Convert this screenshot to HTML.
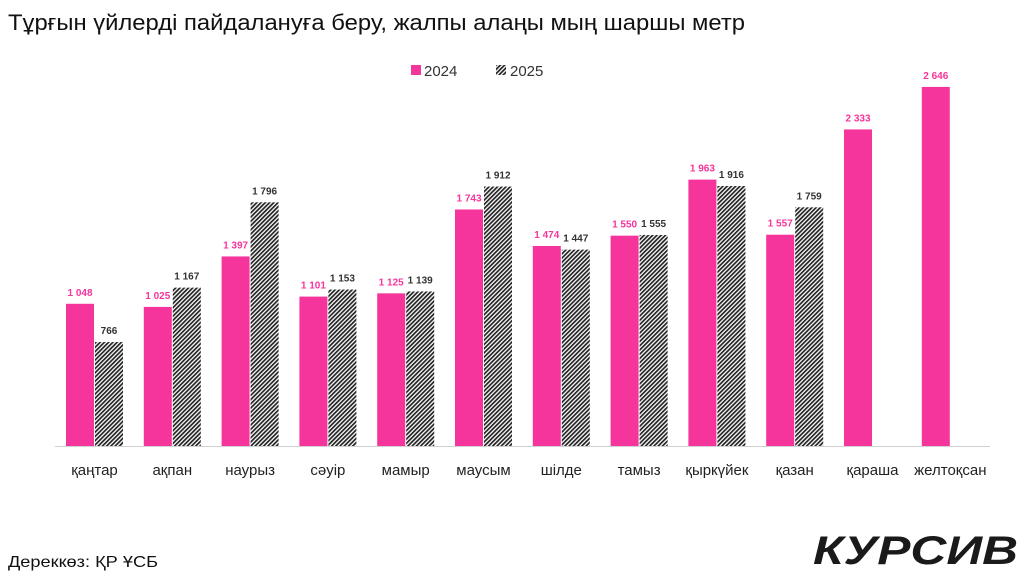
<!DOCTYPE html>
<html><head><meta charset="utf-8"><style>body{margin:0;background:#fff}svg{display:block;font-family:"Liberation Sans",sans-serif}</style></head><body>
<svg width="1024" height="576" viewBox="0 0 1024 576">
<defs><pattern id="h" width="3" height="3" patternUnits="userSpaceOnUse" patternTransform="rotate(45)"><rect width="3" height="3" fill="#fff"/><rect width="1.7" height="3" fill="#222"/></pattern></defs>
<text x="8" y="30" font-size="22" fill="#111" textLength="737" lengthAdjust="spacingAndGlyphs">Тұрғын үйлерді пайдалануға беру, жалпы алаңы мың шаршы метр</text>
<rect x="411" y="65" width="10" height="10" fill="#F5359B"/><text x="424" y="76" font-size="15" fill="#333">2024</text>
<rect x="496" y="65" width="10" height="10" fill="url(#h)"/><text x="510" y="76" font-size="15" fill="#333">2025</text>
<line x1="55" y1="446.5" x2="990" y2="446.5" stroke="#d0d0d0"/>
<g id="bars"></g>
<text x="8" y="567" font-size="16" fill="#111" textLength="150" lengthAdjust="spacingAndGlyphs">Дереккөз: ҚР ҰСБ</text>
<text x="1018" y="564" font-size="40" font-weight="bold" font-style="italic" fill="#1a1a1a" text-anchor="end" textLength="205" lengthAdjust="spacingAndGlyphs">КУРСИВ</text>
</svg>
<script>
var a=[1048,1025,1397,1101,1125,1743,1474,1550,1963,1557,2333,2646],b=[766,1167,1796,1153,1139,1912,1447,1555,1916,1759,null,null];
var n=["қаңтар","ақпан","наурыз","сәуір","мамыр","маусым","шілде","тамыз","қыркүйек","қазан","қараша","желтоқсан"];
var s="",k=0.1357,f=function(v){return v>=1000?Math.floor(v/1000)+" "+String(v%1000).padStart(3,"0"):""+v};
for(var i=0;i<12;i++){var x=66+77.8*i,h=a[i]*k;
s+='<rect x="'+x+'" y="'+(446-h)+'" width="28" height="'+h+'" fill="#F5359B"/>';
s+='<text x="'+(x+14)+'" y="'+(446-h-8)+'" font-size="10" font-weight="bold" fill="#F5359B" text-anchor="middle">'+f(a[i])+'</text>';
if(b[i]){var h2=b[i]*k;s+='<rect x="'+(x+29)+'" y="'+(446-h2)+'" width="28" height="'+h2+'" fill="url(#h)"/>';
s+='<text x="'+(x+43)+'" y="'+(446-h2-8)+'" font-size="10" font-weight="bold" fill="#333" text-anchor="middle">'+f(b[i])+'</text>';}
s+='<text x="'+(x+28.5)+'" y="475" font-size="15" fill="#222" text-anchor="middle">'+n[i]+'</text>';}
document.getElementById("bars").innerHTML=s;
</script>
</body></html>
